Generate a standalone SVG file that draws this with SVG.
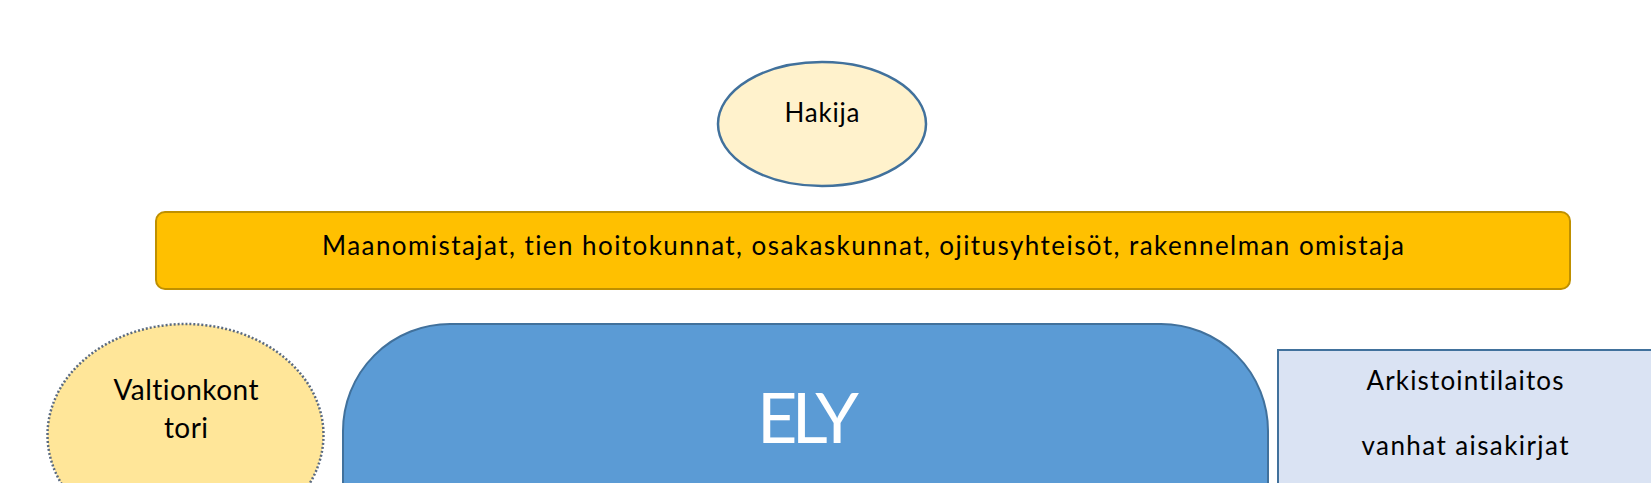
<svg xmlns="http://www.w3.org/2000/svg" width="1651" height="483" viewBox="0 0 1651 483">
<style>
  text { font-family: "Lato", "Open Sans", "Liberation Sans", sans-serif; fill: #000; text-anchor: middle; font-variant-ligatures: none; font-feature-settings: "liga" 0, "clig" 0; }
  .lbl { font-size: 26px; }
  .big { font-size: 28px; }
  .ely { font-size: 70px; fill: #ffffff; }
</style>
<rect width="1651" height="483" fill="#ffffff"/>
<g id="hakija">
  <ellipse cx="822" cy="124" rx="104" ry="62" fill="#fff2cc" stroke="#41719c" stroke-width="2.5"/>
  <text class="lbl" x="822" y="122" textLength="75">Hakija</text>
</g>
<g id="maanomistajat">
  <rect x="156" y="212" width="1414" height="77" rx="9" fill="#ffc000" stroke="#bf9000" stroke-width="2"/>
  <text class="lbl" x="863" y="255" textLength="1082">Maanomistajat, tien hoitokunnat, osakaskunnat, ojitusyhteisöt, rakennelman omistaja</text>
</g>
<g id="valtionkonttori">
  <ellipse cx="185.5" cy="435" rx="138" ry="111" fill="#ffe699" stroke="#5b6b80" stroke-width="2.5" stroke-dasharray="2 2"/>
  <text class="big" x="186" y="400" textLength="145">Valtionkont</text>
  <text class="big" x="186" y="438" textLength="44">tori</text>
</g>
<g id="ely">
  <rect x="343" y="324" width="925" height="300" rx="107" fill="#5b9bd5" stroke="#41719c" stroke-width="2"/>
  <text class="ely" x="808" y="443" textLength="102">ELY</text>
</g>
<g id="arkisto">
  <rect x="1278" y="350" width="400" height="200" fill="#dae3f3" stroke="#41719c" stroke-width="2"/>
  <text class="lbl" x="1465" y="390" textLength="197">Arkistointilaitos</text>
  <text class="lbl" x="1465" y="455" textLength="207">vanhat aisakirjat</text>
</g>
<g id="connectors"></g>
</svg>
